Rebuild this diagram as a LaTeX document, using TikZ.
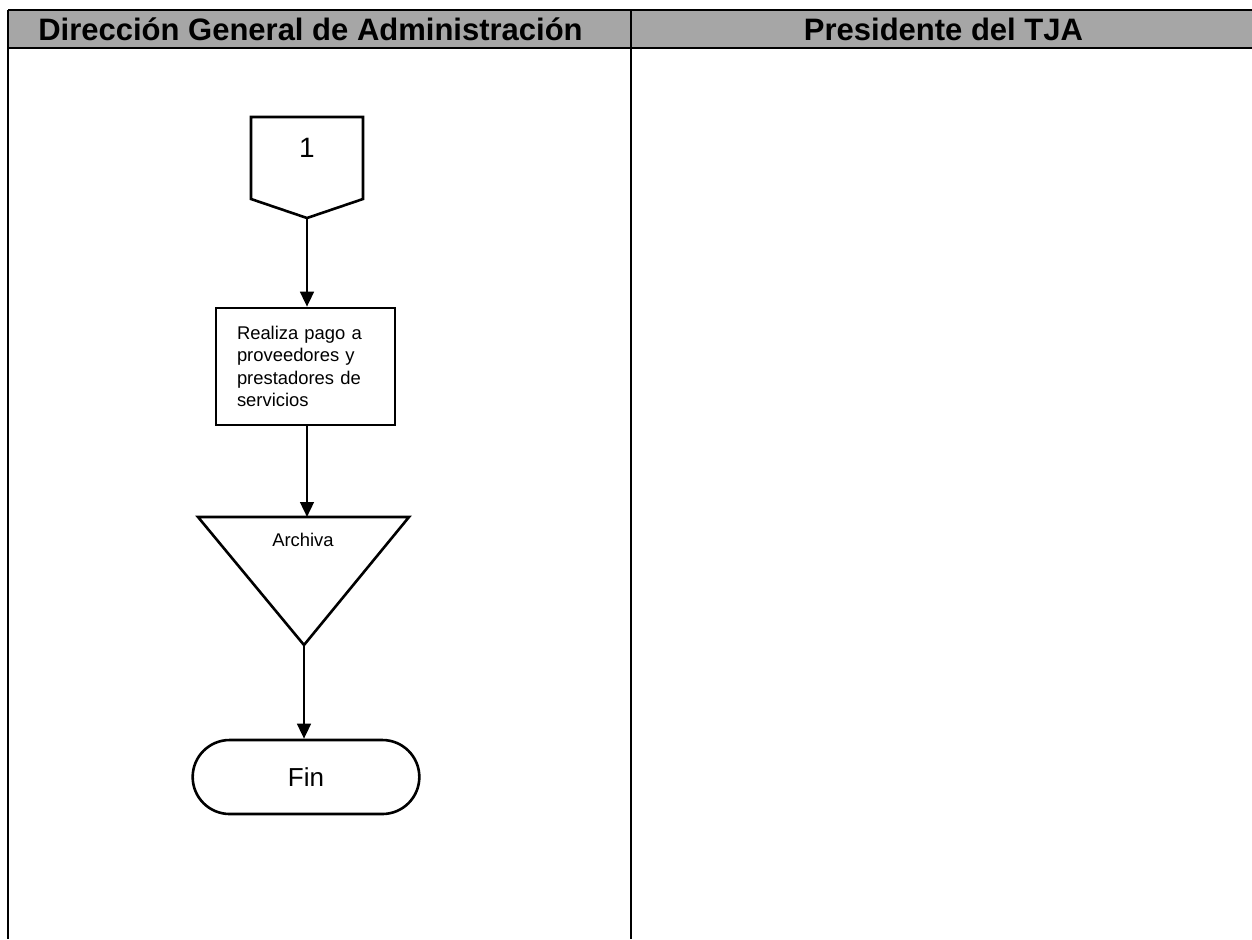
\documentclass[tikz,border=0pt]{standalone}
\usepackage{fontspec}
\setmainfont{Liberation Sans}
\usetikzlibrary{arrows.meta,shapes.misc}
\definecolor{headgray}{RGB}{166,166,166}
\begin{document}
\begin{tikzpicture}[x=0.5pt,y=-0.5pt,
  lane/.style={line width=1.3pt},
  headtext/.style={font=\fontsize{15.5}{18}\selectfont\bfseries, inner sep=0pt, anchor=base},
  shapeline/.style={line width=1.3pt, line join=miter},
  flow/.style={line width=1.3pt, -{Triangle[length=7.5pt,width=6.8pt]}},
  actbox/.style={shapeline, draw, minimum width=89.5pt, minimum height=58.5pt,
    text width=68.5pt, inner xsep=10.5pt, align=left,
    font=\fontsize{9.2}{11.3}\selectfont},
  endbox/.style={shapeline, draw, rounded rectangle, minimum width=113pt,
    minimum height=37pt, rounded rectangle arc length=180, font=\fontsize{13}{15}\selectfont},
  smalltext/.style={font=\fontsize{9.2}{11}\selectfont, inner sep=0pt, anchor=base}]
\useasboundingbox (0,0) rectangle (1252,939);

% swimlane header and lane borders
\fill[headgray] (8,10) rectangle (1252,48);
\draw[lane] (8,10) -- (1252,10);
\draw[lane] (8,48) -- (1252,48);
\draw[lane] (8,10) -- (8,939);
\draw[lane] (631,10) -- (631,939);
\node[headtext] (h1) at (310.5,40.5) {Dirección General de Administración};
\node[headtext] (h2) at (943.5,40.5) {Presidente del TJA};

% off-page connector
\draw[shapeline] (251,117) -- (363,117) -- (363,199) -- (307,218) -- (251,199) -- cycle;
\coordinate (contip) at (307,218);
\node[font=\fontsize{14}{16}\selectfont, inner sep=0pt, anchor=base] (con) at (307,157) {1};

% activity
\node[actbox] (pago) at (305.5,366.5) {Realiza pago a\\proveedores y\\prestadores de\\servicios};

% file (archive) triangle
\coordinate (archtop) at (306,517);
\coordinate (archtip) at (304,645);
\draw[shapeline] (198,517) -- (409,517) -- (archtip) -- cycle;
\node[smalltext] (arch) at (303,546) {Archiva};

% terminator
\node[endbox, minimum width=120pt] (fin) at (306,777) {Fin};

% connectors
\draw[flow] (contip) -- (contip |- pago.north);
\draw[flow] (pago.south -| contip) -- (archtop -| contip);
\draw[flow] (archtip) -- (archtip |- fin.north);
\end{tikzpicture}
\end{document}
